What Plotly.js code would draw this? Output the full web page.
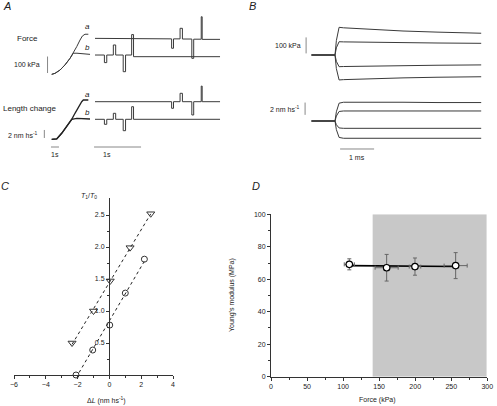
<!DOCTYPE html>
<html><head><meta charset="utf-8">
<script src="https://cdn.plot.ly/plotly-3.0.1.min.js"></script>
<style>html,body{margin:0;padding:0;background:#fff}#plot{width:497px;height:406px}</style>
</head><body><div id="plot"></div>
<script>
// ---------- Panel A: force and length during activation and steps ----------
// rise (left, time in s)
const tRiseForceA = [0, 0.41, 1.04, 1.66, 2.29, 2.70, 3.13, 3.54, 3.83, 4.16, 4.58];
const forceRiseA  = [4, 10, 30, 61, 101, 132, 172, 212, 236, 247, 247];
const tRiseForceB = [0, 0.41, 1.04, 1.66, 2.29, 2.70, 3.16, 4.16, 4.79];
const forceRiseB  = [4, 10, 30, 61, 101, 132, 132, 127, 125];
const tRiseLenA = [0, 0.63, 1.25, 1.88, 2.50, 2.91, 3.33, 3.75, 3.95, 4.58];
const lenRiseA  = [0, 0.08, 1.5, 3.15, 5.0, 6.5, 8.15, 9.4, 9.83, 9.83];
const tRiseLenB = [0, 0.63, 1.25, 1.88, 2.50, 3.13, 4.79];
const lenRiseB  = [0, 0.08, 1.5, 3.15, 5.0, 5.25, 5.08];
// steps (right, time in s)
const tStepA = [0, 1.63, 1.63, 1.67, 1.67, 1.81, 1.81, 1.86, 1.86, 2.06, 2.06, 2.10, 2.10, 2.26, 2.26, 2.28, 2.28, 2.66];
const forceStepA = [222, 219, 162, 162, 219, 219, 283, 283, 218, 218, 101, 101, 217, 217, 353, 353, 216, 216];
const lenStepA   = [9.4, 9.4, 7.75, 7.75, 9.4, 9.4, 11.5, 11.5, 9.4, 9.4, 6.08, 6.08, 9.4, 9.4, 13.3, 13.3, 9.4, 9.4];
const tStepB = [0, 0.20, 0.20, 0.25, 0.25, 0.39, 0.39, 0.44, 0.44, 0.60, 0.60, 0.65, 0.65, 0.78, 0.78, 0.82, 0.82, 2.66];
const forceStepB = [121, 121, 75, 75, 121, 121, 182, 182, 121, 121, 20, 20, 121, 121, 245, 245, 111, 111];
const lenStepB   = [5.0, 5.0, 3.75, 3.75, 5.0, 5.0, 6.5, 6.5, 5.0, 5.0, 2.15, 2.15, 5.0, 5.0, 8.15, 8.15, 5.0, 5.0];

// ---------- Panel B: fast time base (ms) ----------
const tB = [-0.69, 0, 0.04, 0.12, 0.25, 1, 2, 3, 4.3];
const forceB1 = [0, 0, 90, 173, 170, 160, 150, 143, 136];
const forceB2 = [0, 0, 45, 83, 82, 79, 77, 75, 73];
const forceB3 = [0, 0, -40, -73, -72, -69, -66, -64, -62];
const forceB4 = [0, 0, -85, -156, -154, -148, -143, -139, -136];
const lenB1 = [0, 0, 1.5, 2.9, 3.05, 3.0, 3.05, 3.0, 3.0];
const lenB2 = [0, 0, 0.8, 1.55, 1.63, 1.63, 1.63, 1.63, 1.63];
const lenB3 = [0, 0, -0.6, -1.13, -1.19, -1.19, -1.19, -1.19, -1.19];
const lenB4 = [0, 0, -1.4, -2.67, -2.81, -2.81, -2.81, -2.81, -2.81];

// ---------- Panel C: T1/T0 vs ΔL ----------
const dLcirc = [-2.1, -1.05, 0.02, 1.0, 2.2];
const T1circ = [0.0, 0.39, 0.78, 1.28, 1.81];
const dLtri = [-2.35, -1.0, 0.05, 1.3, 2.6];
const T1tri = [0.5, 1.0, 1.47, 1.99, 2.52];
const cTickVals = [0.5, 1.0, 1.5, 2.0, 2.5];
const cTickText = ['0.5', '1.0', '1.5', '2.0', '2.5'];

// ---------- Panel D: Young's modulus vs force ----------
const forceD = [108.6, 160.4, 199.7, 256.1];
const modD = [69.2, 67.1, 67.8, 68.4];
const modErr = [3.4, 8.2, 5.3, 8.0];
const forceErr = [7, 16, 8, 16];
const shadeRange = [141, 299];

// scale bars (values in data units)
const scaleForce = 100, scaleLen = 2, scaleTime = 1;

// ---------- helpers ----------
const W = 497, H = 406;
const FONT = 'Liberation Sans, Arial, sans-serif';
function fit(x, y) {
  const n = x.length;
  const mx = x.reduce((a, b) => a + b) / n, my = y.reduce((a, b) => a + b) / n;
  let sxy = 0, sxx = 0;
  for (let i = 0; i < n; i++) { sxy += (x[i] - mx) * (y[i] - my); sxx += (x[i] - mx) ** 2; }
  const m = sxy / sxx, b = my - m * mx;
  const x0 = Math.min(...x), x1 = Math.max(...x);
  return {x: [x0, x1], y: [m * x0 + b, m * x1 + b]};
}
const lineA = {color: '#3a3a3a', width: 1};
function tr(x, y, xa, ya, extra) {
  return Object.assign({x: x, y: y, xaxis: xa, yaxis: ya, mode: 'lines', line: lineA, hoverinfo: 'skip', showlegend: false}, extra || {});
}

const traces = [
  tr(tRiseForceA, forceRiseA, 'x', 'y'),
  tr(tRiseForceB, forceRiseB, 'x', 'y'),
  tr(tStepA, forceStepA, 'x2', 'y'),
  tr(tStepB, forceStepB, 'x2', 'y'),
  tr(tRiseLenA, lenRiseA, 'x', 'y2', {line: {color: '#222', width: 1.3}}),
  tr(tRiseLenB, lenRiseB, 'x', 'y2', {line: {color: '#222', width: 1.3}}),
  tr(tStepA, lenStepA, 'x2', 'y2'),
  tr(tStepB, lenStepB, 'x2', 'y2'),
  tr(tB, forceB1, 'x3', 'y3'), tr(tB, forceB2, 'x3', 'y3'),
  tr(tB, forceB3, 'x3', 'y3'), tr(tB, forceB4, 'x3', 'y3'),
  tr(tB, lenB1, 'x3', 'y4'), tr(tB, lenB2, 'x3', 'y4'),
  tr(tB, lenB3, 'x3', 'y4'), tr(tB, lenB4, 'x3', 'y4')
];
const fc = fit(dLcirc, T1circ), ft = fit(dLtri, T1tri);
traces.push(tr(fc.x, fc.y, 'x4', 'y5', {line: {color: '#222', width: 1, dash: '3px,3px'}}));
traces.push(tr(ft.x, ft.y, 'x4', 'y5', {line: {color: '#222', width: 1, dash: '3px,3px'}}));
traces.push({x: dLcirc, y: T1circ, xaxis: 'x4', yaxis: 'y5', mode: 'markers', showlegend: false,
  cliponaxis: false, marker: {symbol: 'circle-open', size: 6, color: '#333', line: {width: 1}}});
traces.push({x: dLtri, y: T1tri, xaxis: 'x4', yaxis: 'y5', mode: 'markers', showlegend: false,
  cliponaxis: false, marker: {symbol: 'triangle-down-open', size: 7, color: '#333', line: {width: 1}}});
const fd = fit(forceD, modD);
traces.push(tr(fd.x, fd.y, 'x5', 'y6', {line: {color: '#000', width: 1.6}}));
traces.push({x: forceD, y: modD, xaxis: 'x5', yaxis: 'y6', mode: 'markers', showlegend: false,
  marker: {symbol: 'circle', size: 6.5, color: '#fff', line: {color: '#000', width: 1.2}},
  error_y: {type: 'data', array: modErr, color: '#666', thickness: 1, width: 2},
  error_x: {type: 'data', array: forceErr, color: '#666', thickness: 1, width: 2}});

const hid = {visible: false, fixedrange: true, showgrid: false, zeroline: false};
const axStyle = {showline: true, linecolor: '#333', linewidth: 1, ticks: 'outside', ticklen: 3,
  tickcolor: '#333', tickwidth: 1, showgrid: false, zeroline: false,
  tickfont: {family: FONT, size: 7, color: '#222'}};

const shapes = [
  // panel A scale bars
  {type: 'line', xref: 'x', yref: 'y', x0: -0.52, x1: -0.52, y0: 12, y1: 12 + scaleForce, line: {color: '#888', width: 1}},
  {type: 'line', xref: 'x', yref: 'y2', x0: -0.92, x1: -0.92, y0: 0.33, y1: 0.33 + scaleLen, line: {color: '#888', width: 1}},
  {type: 'line', xref: 'x', yref: 'y2', x0: -0.09, x1: -0.09 + scaleTime, y0: -1.925, y1: -1.925, line: {color: '#888', width: 1}},
  {type: 'line', xref: 'x2', yref: 'y2', x0: -0.02, x1: -0.02 + scaleTime, y0: -1.925, y1: -1.925, line: {color: '#888', width: 1}},
  // panel B scale bars
  {type: 'line', xref: 'x3', yref: 'y3', x0: -0.85, x1: -0.85, y0: 10, y1: 10 + scaleForce, line: {color: '#888', width: 1}},
  {type: 'line', xref: 'x3', yref: 'y4', x0: -0.88, x1: -0.88, y0: 1, y1: 1 + scaleLen, line: {color: '#888', width: 1}},
  {type: 'line', xref: 'x3', yref: 'y4', x0: 0.15, x1: 0.15 + scaleTime, y0: -4.55, y1: -4.55, line: {color: '#888', width: 1}},
  // panel D shaded region
  {type: 'rect', xref: 'x5', yref: 'y6', x0: shadeRange[0], x1: shadeRange[1], y0: 0, y1: 100,
   fillcolor: '#c8c8c8', line: {width: 0}, layer: 'below'}
];

function ann(text, px, py, size, extra) {
  return Object.assign({text: text, xref: 'paper', yref: 'paper', x: px / W, y: 1 - py / H,
    xanchor: 'center', yanchor: 'middle', showarrow: false,
    font: {family: FONT, size: size, color: '#222'}}, extra || {});
}
const annotations = [
  ann('<i>A</i>', 7, 6, 11),
  ann('Force', 27, 38, 8),
  ann('<i>a</i>', 87, 26, 8), ann('<i>b</i>', 87, 48, 8),
  ann('100 kPa', 27, 64, 7),
  ann('Length change', 29, 108, 8),
  ann('<i>a</i>', 87, 94, 8), ann('<i>b</i>', 87, 113, 8),
  ann('2 nm hs<sup>-1</sup>', 23, 135, 7),
  ann('1s', 55, 154, 7), ann('1s', 107, 154, 7),
  ann('<i>B</i>', 252, 6, 11),
  ann('100 kPa', 288, 46, 7),
  ann('2 nm hs<sup>-1</sup>', 285, 109, 7),
  ann('1 ms', 357, 157, 7),
  ann('<i>C</i>', 5, 186, 11),
  ann('<i>T</i><sub>1</sub>/<i>T</i><sub>0</sub>', 89, 196, 7),
  ann('Δ<i>L</i> (nm hs<sup>-1</sup>)', 106, 400, 7),
  ann('<i>D</i>', 256, 186, 11),
  ann("Young's modulus (MPa)", 232, 295, 7, {textangle: -90}),
  ann('Force (kPa)', 377, 400, 7)
];

const layout = {
  width: W, height: H, margin: {l: 0, r: 0, t: 0, b: 0},
  paper_bgcolor: '#fff', plot_bgcolor: 'rgba(0,0,0,0)', showlegend: false,
  font: {family: FONT, size: 7, color: '#222'},
  xaxis: Object.assign({}, hid, {domain: [40 / W, 92 / W], range: [-1.4625, 5.0375], anchor: 'y'}),
  xaxis2: Object.assign({}, hid, {domain: [92 / W, 224 / W], range: [-0.0638, 2.7447], anchor: 'y'}),
  yaxis: Object.assign({}, hid, {domain: [1 - 80 / H, 1 - 10 / H], range: [-30.3, 393.9], anchor: 'x'}),
  yaxis2: Object.assign({}, hid, {domain: [1 - 152 / H, 1 - 80 / H], range: [-3.175, 14.825], anchor: 'x'}),
  xaxis3: Object.assign({}, hid, {domain: [300 / W, 490 / W], range: [-1.0294, 4.5588], anchor: 'y3'}),
  yaxis3: Object.assign({}, hid, {domain: [1 - 95 / H, 1 - 15 / H], range: [-250, 250], anchor: 'x3'}),
  yaxis4: Object.assign({}, hid, {domain: [1 - 150 / H, 1 - 95 / H], range: [-4.715, 4.228], anchor: 'x3'}),
  xaxis4: Object.assign({}, axStyle, {domain: [14 / W, 173 / W], range: [-6, 4], anchor: 'y5',
    tickvals: [-6, -4, -2, 0, 2, 4], minor: {tickvals: [-5, -3, -1, 1, 3], ticks: 'outside', ticklen: 2, tickcolor: '#333'}}),
  yaxis5: Object.assign({}, axStyle, {domain: [1 - 375 / H, 1 - 198 / H], range: [0, 2.766], anchor: 'free',
    position: 109 / W, tickvals: cTickVals, ticktext: cTickText,
    minor: {tickvals: [0.25, 0.75, 1.25, 1.75, 2.25], ticks: 'outside', ticklen: 2, tickcolor: '#333'}}),
  xaxis5: Object.assign({}, axStyle, {domain: [271 / W, 487.3 / W], range: [0, 300], anchor: 'y6',
    dtick: 50, tick0: 0,
    minor: {dtick: 25, ticks: 'outside', ticklen: 2, tickcolor: '#333'}}),
  yaxis6: Object.assign({}, axStyle, {domain: [1 - 376.7 / H, 1 - 214.3 / H], range: [0, 100], anchor: 'x5',
    dtick: 20, tick0: 0,
    minor: {dtick: 10, ticks: 'outside', ticklen: 2, tickcolor: '#333'}}),
  shapes: shapes, annotations: annotations
};
Plotly.newPlot('plot', traces, layout, {staticPlot: true, displayModeBar: false});
</script></body></html>
